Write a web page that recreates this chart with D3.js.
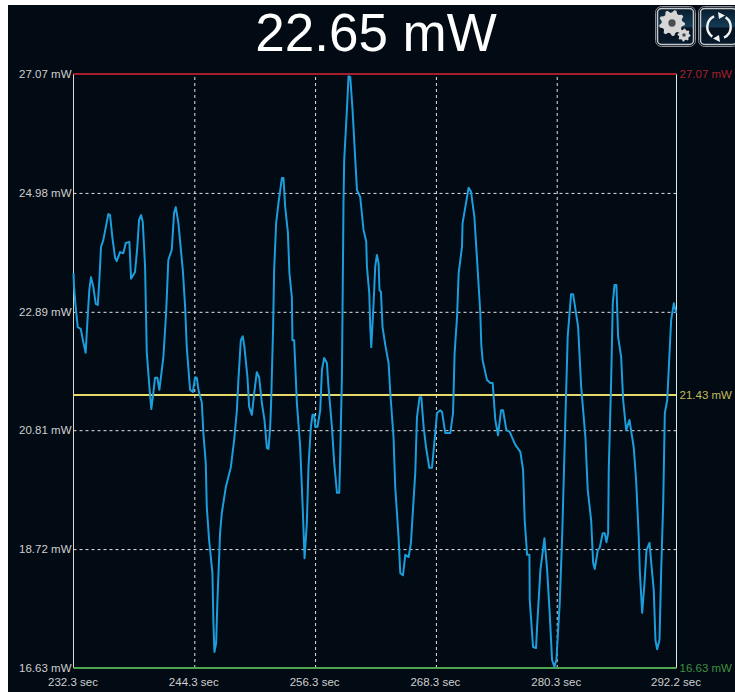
<!DOCTYPE html>
<meta charset="utf-8">
<style>
html, body { margin: 0; background: #fff; }
svg { display: block; }
text { font-family: "Liberation Sans", Arial, sans-serif; }
.axis path.domain { display: none; }
.axis text { font-size: 11.5px; fill: #cfcfcf; }
.grid line { stroke: #e4e4e4; stroke-width: 1; stroke-dasharray: 3 3; }
.power { fill: none; stroke: #1c9ddc; stroke-width: 2; stroke-linejoin: round; }
</style>
<svg width="735" height="692"></svg>
<script src="https://d3js.org/d3.v7.min.js"></script>
<script>

var currentReading = "22.65 mW";
var xTicks = [232.3, 244.3, 256.3, 268.3, 280.3, 292.2];
var yTicks = [16.63, 18.72, 20.81, 22.89, 24.98, 27.07];
var minPower = 16.63, avgPower = 21.43, maxPower = 27.07;

var seconds = [232.3, 232.35, 232.52, 232.72, 233.02, 233.27, 233.51, 233.67, 233.87, 234.04, 234.27, 234.51, 234.71, 234.87, 235.03, 235.26, 235.76, 235.93, 236.16, 236.43, 236.59, 236.92, 237.25, 237.49, 237.85, 238.02, 238.41, 238.64, 238.81, 239.01, 239.18, 239.41, 239.58, 239.84, 240.03, 240.23, 240.4, 240.63, 240.83, 241.23, 241.5, 241.72, 242.06, 242.29, 242.46, 242.72, 243.16, 243.39, 243.55, 243.88, 244.15, 244.38, 244.55, 244.71, 245.05, 245.2, 245.44, 245.54, 245.77, 246.1, 246.2, 246.3, 246.47, 246.6, 246.86, 247.03, 247.43, 247.93, 248.26, 248.53, 248.68, 248.92, 249.12, 249.28, 249.58, 249.75, 250.02, 250.25, 250.51, 250.74, 251.01, 251.27, 251.51, 251.67, 251.84, 251.94, 252.13, 252.23, 252.43, 252.66, 253, 253.16, 253.33, 253.6, 253.75, 253.99, 254.05, 254.22, 254.49, 254.82, 255.09, 255.25, 255.48, 255.64, 255.88, 256.04, 256.21, 256.31, 256.54, 256.81, 256.98, 257.2, 257.47, 257.63, 257.97, 258.2, 258.47, 258.7, 258.8, 258.96, 259.02, 259.12, 259.19, 259.46, 259.62, 259.79, 260.02, 260.29, 260.46, 260.78, 261.11, 261.38, 261.45, 261.68, 261.78, 261.88, 262.11, 262.27, 262.44, 262.6, 262.7, 262.84, 263, 263.27, 263.6, 263.77, 264.09, 264.26, 264.59, 264.76, 265.03, 265.26, 265.59, 265.82, 266.02, 266.25, 266.42, 266.68, 266.85, 267.08, 267.32, 267.64, 267.91, 268.14, 268.41, 268.74, 268.91, 269.23, 269.73, 270, 270.16, 270.4, 270.56, 270.89, 270.95, 271.55, 271.79, 272.12, 272.39, 272.71, 272.81, 272.94, 273.38, 273.71, 273.94, 274.2, 274.47, 274.77, 274.97, 275.3, 275.63, 276.19, 276.69, 276.96, 277.12, 277.36, 277.59, 277.62, 277.95, 278.25, 278.35, 278.68, 279.08, 279.35, 279.6, 279.84, 280.07, 280.27, 280.6, 280.84, 281.16, 281.39, 281.73, 281.93, 282.43, 282.73, 283.15, 283.38, 283.72, 283.92, 284.08, 284.38, 284.57, 284.87, 285.07, 285.24, 285.41, 285.47, 285.71, 285.87, 286.04, 286.23, 286.4, 286.7, 286.9, 287.2, 287.53, 287.95, 288.19, 288.45, 288.55, 288.79, 289.02, 289.22, 289.52, 289.69, 289.94, 290.11, 290.28, 290.51, 290.68, 290.88, 291.04, 291.28, 291.67, 291.93, 292.17];

var power = [23.57, 23.33, 22.97, 22.62, 22.59, 22.36, 22.17, 22.69, 23.27, 23.5, 23.33, 23.03, 23.01, 23.45, 24.03, 24.15, 24.61, 24.59, 24.2, 23.84, 23.78, 23.94, 23.92, 24.1, 24.12, 23.47, 23.59, 24.03, 24.5, 24.59, 24.47, 23.68, 22.17, 21.57, 21.18, 21.46, 21.73, 21.73, 21.52, 22.1, 22.87, 23.8, 23.98, 24.63, 24.73, 24.45, 23.62, 22.97, 22.27, 21.52, 21.48, 21.74, 21.73, 21.52, 21.29, 20.76, 20.23, 19.46, 18.88, 18.3, 17.42, 16.91, 17.07, 17.83, 19, 19.35, 19.81, 20.16, 20.64, 21.16, 21.69, 22.39, 22.46, 22.27, 21.74, 21.22, 21.08, 21.46, 21.83, 21.74, 21.29, 20.99, 20.5, 20.48, 20.87, 21.34, 22.62, 23.62, 24.45, 24.8, 25.24, 25.24, 24.73, 24.28, 23.57, 23.15, 22.39, 22.39, 21.29, 20.51, 19.35, 18.56, 19.18, 20.16, 20.87, 21.08, 21.08, 20.87, 20.87, 21.16, 21.87, 22.08, 21.99, 21.57, 20.87, 20.23, 19.71, 19.71, 20.41, 21.73, 22.8, 24.8, 25.56, 26.44, 27.03, 27.02, 26.44, 25.56, 25.03, 24.91, 24.33, 24.12, 23.68, 23.22, 22.62, 22.27, 23.04, 23.68, 23.89, 23.75, 23.27, 23.24, 22.62, 22.31, 21.99, 21.46, 20.69, 19.81, 18.93, 18.3, 18.26, 18.62, 18.58, 18.83, 19.41, 20.06, 21.04, 21.39, 21.39, 20.87, 20.51, 20.15, 20.15, 20.58, 21.11, 21.16, 21.13, 20.76, 20.76, 21.11, 22.17, 22.8, 23.57, 24.03, 24.45, 25.07, 25, 24.56, 23.8, 22.87, 22.31, 22.04, 21.69, 21.64, 21.64, 20.99, 20.72, 21.16, 21.16, 20.81, 20.78, 20.55, 20.43, 20.11, 19.23, 18.62, 18.62, 17.83, 17, 16.98, 17.35, 18.35, 18.91, 18.35, 17.6, 16.77, 16.65, 16.77, 17.77, 18.93, 20.99, 22.45, 23.2, 23.2, 22.62, 21.57, 20.69, 19.76, 19.23, 18.48, 18.37, 18.7, 18.74, 19, 19, 18.84, 19, 20.11, 21.69, 23.04, 23.36, 23.36, 22.45, 22.1, 21.34, 20.81, 20.99, 20.51, 19.93, 18.93, 18.35, 17.6, 18.12, 18.7, 18.83, 18.48, 18, 17.12, 16.96, 17.12, 18.35, 19.53, 21.11, 21.34, 22.75, 23.04, 22.87];

var svg = d3.select("svg"),
    margin = {top: 74, right: 58.5, bottom: 24, left: 73.5},
    width = +svg.attr("width") - margin.left - margin.right,
    height = +svg.attr("height") - margin.top - margin.bottom;

svg.append("rect")
    .attr("x", 8).attr("y", 5)
    .attr("width", 727).attr("height", 687)
    .attr("fill", "#020a14");

svg.append("text")
    .attr("x", 376).attr("y", 51)
    .attr("text-anchor", "middle")
    .attr("font-size", 53)
    .attr("fill", "#fff")
    .text(currentReading);

var x = d3.scaleLinear().domain([xTicks[0], xTicks[5]]).range([0, width]),
    y = d3.scaleLinear().domain([minPower, maxPower]).range([height, 0]);

var g = svg.append("g")
    .attr("transform", "translate(" + margin.left + "," + margin.top + ")");

// labels + dashed grid both come from the axes
var xAxis = g.append("g")
    .attr("class", "axis grid")
    .attr("transform", "translate(0," + height + ")")
    .call(d3.axisBottom(x).tickValues(xTicks).tickSize(-height).tickPadding(10)
      .tickFormat(function(d) { return d + " sec"; }));
xAxis.selectAll(".tick").filter(function(d) { return d == xTicks[0] || d == xTicks[5]; })
    .select("line").remove();
xAxis.selectAll("text").attr("dx", -1);

var yAxis = g.append("g")
    .attr("class", "axis grid")
    .call(d3.axisLeft(y).tickValues(yTicks).tickSize(-width).tickPadding(2)
      .tickFormat(function(d) { return d.toFixed(2) + " mW"; }));
yAxis.selectAll(".tick").filter(function(d) { return d == minPower || d == maxPower; })
    .select("line").remove();

// edges of the plot
g.append("line").attr("x1", 0).attr("x2", 0).attr("y1", 0).attr("y2", height)
    .attr("stroke", "#d8d8d8");
g.append("line").attr("x1", width).attr("x2", width).attr("y1", 0).attr("y2", height)
    .attr("stroke", "#d4f0e4");

// min / average / max
var limits = [
  {v: maxPower, color: "#a21f2b", label: "#a8202c"},
  {v: avgPower, color: "#e6da6c", label: "#c4bb5c"},
  {v: minPower, color: "#4da64d", label: "#3f8f3f"}
];

var rightAxis = g.append("g")
    .attr("class", "axis")
    .attr("transform", "translate(" + width + ",0)")
    .call(d3.axisRight(y).tickValues(limits.map(function(d) { return d.v; }))
      .tickSize(0).tickPadding(3)
      .tickFormat(function(d) { return d.toFixed(2) + " mW"; }));
rightAxis.selectAll("text").style("fill", function(d, i) { return limits[i].label; });

g.selectAll(".limit")
  .data(limits)
  .enter().append("line")
    .attr("class", "limit")
    .attr("x1", 0).attr("x2", width)
    .attr("y1", function(d) { return y(d.v); })
    .attr("y2", function(d) { return y(d.v); })
    .attr("stroke", function(d) { return d.color; })
    .attr("stroke-width", 2);

var line = d3.line()
    .x(function(d, i) { return x(seconds[i]); })
    .y(function(d) { return y(d); });

g.append("path")
    .datum(power)
    .attr("class", "power")
    .attr("d", line);

// the two buttons
var defs = svg.append("defs");
var grad = defs.append("linearGradient").attr("id", "btn")
    .attr("x1", 0).attr("x2", 0).attr("y1", 0).attr("y2", 1);
grad.append("stop").attr("offset", "0%").attr("stop-color", "#0a1c2c");
grad.append("stop").attr("offset", "50%").attr("stop-color", "#123a55");
grad.append("stop").attr("offset", "55%").attr("stop-color", "#05111f");
grad.append("stop").attr("offset", "100%").attr("stop-color", "#071a2c");

function button(bx) {
  svg.append("rect")
      .attr("x", bx + 0.5).attr("y", 6.5)
      .attr("width", 40).attr("height", 40).attr("rx", 6)
      .attr("fill", "#020a14")
      .attr("stroke", "#8a8e92");
  svg.append("rect")
      .attr("x", bx + 2.5).attr("y", 8.5)
      .attr("width", 36).attr("height", 36).attr("rx", 4)
      .attr("fill", "url(#btn)")
      .attr("stroke", "#c4c8cb").attr("stroke-width", 1.5);
}

function gear(cx, cy, r, teeth) {
  var pts = [];
  for (var i = 0; i < teeth * 4; i++) {
    var a = i / (teeth * 4) * 2 * Math.PI;
    var rr = (i % 4 < 2) ? r : r * 0.8;
    pts.push([cx + rr * Math.cos(a), cy + rr * Math.sin(a)]);
  }
  svg.append("path").attr("d", d3.line()(pts) + "Z").attr("fill", "#d6d6d6");
  svg.append("circle").attr("cx", cx).attr("cy", cy).attr("r", r * 0.28).attr("fill", "#4a4d50");
}

button(655);
gear(672, 23, 13, 9);
gear(684, 35, 6.5, 8);

button(698);
var arc = d3.arc().innerRadius(10.5).outerRadius(13);
var ring = svg.append("g").attr("transform", "translate(719,27)").attr("fill", "#f2f2f2");
ring.append("path").attr("d", arc({startAngle: 0.6, endAngle: 2.7}));
ring.append("path").attr("d", arc({startAngle: 3.75, endAngle: 5.85}));
ring.append("path").attr("d", "M-1,-15L6,-11.5L0,-8Z");
ring.append("path").attr("d", "M1,15L-6,11.5L0,8Z");

</script>
